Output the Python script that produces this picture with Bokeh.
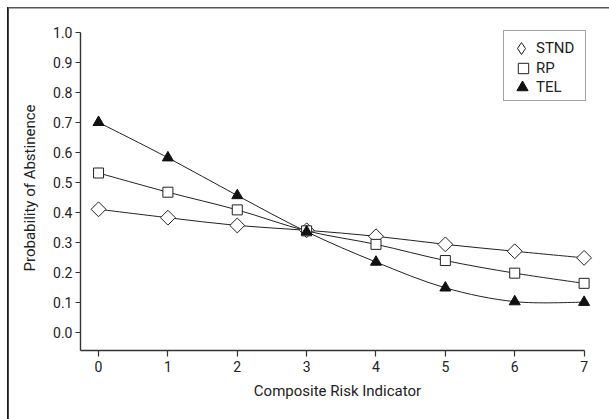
from bokeh.plotting import figure
from bokeh.models import Range1d, Legend, LegendItem, FixedTicker, ColumnDataSource, CustomJSTickFormatter
from bokeh.embed import file_html
from bokeh.resources import INLINE
import math

risk = [0, 1, 2, 3, 4, 5, 6, 7]
stnd = [0.41, 0.382, 0.356, 0.340, 0.320, 0.293, 0.270, 0.248]
rp = [0.531, 0.467, 0.408, 0.338, 0.293, 0.239, 0.197, 0.163]
tel = [0.700, 0.582, 0.456, 0.335, 0.234, 0.148, 0.102, 0.100]
y_ticks = [0.0, 0.1, 0.2, 0.3, 0.4, 0.5, 0.6, 0.7, 0.8, 0.9, 1.0]
x_ticks = [0, 1, 2, 3, 4, 5, 6, 7]
series_labels = ["STND", "RP", "TEL"]

FONT = "Roboto"
FRAME_LEFT, FRAME_BOTTOM = 80, 350

p = figure(width=609, height=419, output_backend="svg", toolbar_location=None,
           x_range=Range1d(-0.26, 7.15), y_range=Range1d(-0.061, 1.023),
           min_border_left=FRAME_LEFT, min_border_right=15, min_border_top=25,
           min_border_bottom=419 - FRAME_BOTTOM)
p.border_fill_color = None
p.background_fill_color = "white"
p.outline_line_color = None
p.grid.visible = False
p.styles = {
    "background": "linear-gradient(#555,#555) 8px 7px / 601px 1.5px no-repeat, "
                  "linear-gradient(#1a1a1a,#1a1a1a) 7px 7px / 1.8px 412px no-repeat, white"
}

for ax in (p.xaxis[0], p.yaxis[0]):
    ax.axis_line_color = "#333"
    ax.axis_line_width = 1.4
    ax.major_tick_line_color = "#333"
    ax.major_tick_line_width = 1.2
    ax.major_tick_in = 0
    ax.minor_tick_line_color = None
    ax.major_label_text_font = FONT
    ax.major_label_text_font_size = "14px"
    ax.major_label_text_color = "#222"
    ax.axis_label_text_font = FONT
    ax.axis_label_text_font_size = "15px"
    ax.axis_label_text_font_style = "normal"
    ax.axis_label_text_color = "#222"

p.xaxis.ticker = FixedTicker(ticks=x_ticks)
p.xaxis.bounds = (-0.26, 7)
p.xaxis.major_tick_out = 6
p.xaxis.major_label_standoff = 4
p.xaxis.axis_label = "Composite Risk Indicator"
p.xaxis.axis_label_standoff = 7

p.yaxis.ticker = FixedTicker(ticks=y_ticks)
p.yaxis.bounds = (-0.061, 1.0)
p.yaxis.major_tick_out = 5
p.yaxis.major_label_standoff = 3
p.yaxis.formatter = CustomJSTickFormatter(code="return tick.toFixed(1)")
p.yaxis.axis_label = "Probability of Abstinence"
p.yaxis.axis_label_standoff = 11


def bez(xs, ys):
    n = len(xs)
    d = dict(x0=[], y0=[], x1=[], y1=[], cx0=[], cy0=[], cx1=[], cy1=[])
    for i in range(n - 1):
        im1 = max(i - 1, 0)
        ip2 = min(i + 2, n - 1)
        d["x0"].append(xs[i]); d["y0"].append(ys[i])
        d["x1"].append(xs[i + 1]); d["y1"].append(ys[i + 1])
        d["cx0"].append(xs[i] + (xs[i + 1] - xs[im1]) / 6)
        d["cy0"].append(ys[i] + (ys[i + 1] - ys[im1]) / 6)
        d["cx1"].append(xs[i + 1] - (xs[ip2] - xs[i]) / 6)
        d["cy1"].append(ys[i + 1] - (ys[ip2] - ys[i]) / 6)
    return ColumnDataSource(d)

for ys in (stnd, rp, tel):
    p.bezier(x0="x0", y0="y0", x1="x1", y1="y1", cx0="cx0", cy0="cy0",
             cx1="cx1", cy1="cy1", source=bez(risk, ys), line_color="#222", line_width=1)

p.scatter(risk, stnd, marker="square", angle=math.pi / 4, size=10.5,
          fill_color="white", line_color="#222", line_width=1)
r_rp = p.scatter(risk, rp, marker="square", size=10,
                 fill_color="white", line_color="#222", line_width=1)
r_tel = p.scatter(risk, tel, marker="triangle", size=11,
                  fill_color="#111", line_color="#111", line_width=1)
# legend-only glyphs (legend markers are always drawn unrotated)
r_stnd_leg = p.scatter(risk, stnd, marker="diamond", fill_color="white",
                       line_color="#222", line_width=1, visible=False)
r_blank = p.scatter(risk, stnd, marker="square", alpha=0, visible=False)

# legend frame
frame_leg = Legend(items=[LegendItem(label=" ", renderers=[r_blank])],
                   location=(503 - FRAME_LEFT, FRAME_BOTTOM - 101))
frame_leg.border_line_color = "#444"
frame_leg.border_line_width = 1
frame_leg.background_fill_color = "white"
frame_leg.background_fill_alpha = 1
frame_leg.padding = 0
frame_leg.margin = 0
frame_leg.spacing = 0
frame_leg.glyph_width = 1
frame_leg.glyph_height = 69
frame_leg.label_height = 69
frame_leg.label_width = 80
frame_leg.label_standoff = 0
frame_leg.label_text_alpha = 0
p.add_layout(frame_leg)


def row_legend(label, renderer, glyph, cy, tx=536):
    left = tx - glyph
    lg = Legend(items=[LegendItem(label=label, renderers=[renderer])],
                location=(int(round(left - FRAME_LEFT)), int(round(FRAME_BOTTOM - (cy + glyph / 2)))))
    lg.border_line_color = None
    lg.background_fill_alpha = 0
    lg.padding = 0
    lg.margin = 0
    lg.spacing = 0
    lg.glyph_width = glyph
    lg.glyph_height = glyph
    lg.label_height = glyph
    lg.label_standoff = 0
    lg.label_text_font = FONT
    lg.label_text_font_size = "15px"
    lg.label_text_color = "#222"
    p.add_layout(lg)

row_legend(series_labels[0], r_stnd_leg, 30, 48)
row_legend(series_labels[1], r_rp, 26, 68)
row_legend(series_labels[2], r_tel, 28, 87)

open("out.html", "w").write(file_html(p, INLINE))
